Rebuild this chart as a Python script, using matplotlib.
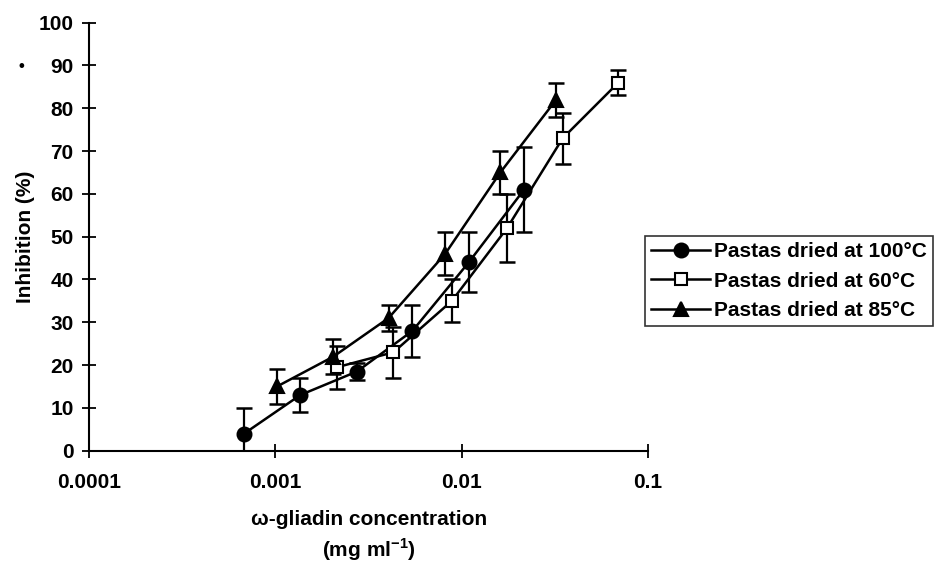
import matplotlib
matplotlib.use('Agg')
import matplotlib.pyplot as plt

# data
x_100 = [0.00068, 0.00136, 0.00274, 0.00544, 0.0109, 0.0216]
y_100 = [4, 13, 18.5, 28, 44, 61]
e_100 = [6, 4, 2, 6, 7, 10]

x_60 = [0.00214, 0.0043, 0.00885, 0.0175, 0.0348, 0.0692]
y_60 = [19.5, 23, 35, 52, 73, 86]
e_60 = [5, 6, 5, 8, 6, 3]

x_85 = [0.00102, 0.00205, 0.00405, 0.00815, 0.0161, 0.0321]
y_85 = [15, 22, 31, 46, 65, 82]
e_85 = [4, 4, 3, 5, 5, 4]

xticks = [0.0001, 0.001, 0.01, 0.1]
xticklabels = ['0.0001', '0.001', '0.01', '0.1']
yticks = list(range(0, 101, 10))

plt.rcParams['font.family'] = ['Liberation Sans', 'DejaVu Sans']
plt.rcParams['font.weight'] = 'bold'

fig = plt.figure(figsize=(9.35, 5.64), dpi=100)
ax = fig.add_axes([0.0952, 0.2009, 0.598, 0.7589])

series = [
    (x_100, y_100, e_100, 'o', 'black', 'Pastas dried at 100\u00b0C', 10),
    (x_60, y_60, e_60, 's', 'white', 'Pastas dried at 60\u00b0C', 9),
    (x_85, y_85, e_85, '^', 'black', 'Pastas dried at 85\u00b0C', 10),
]
handles = []
for xs, ys, es, m, fc, lab, ms in series:
    ax.errorbar(xs, ys, yerr=es, fmt='none', ecolor='black', elinewidth=1.6,
                capsize=6, capthick=1.8, zorder=2)
    h, = ax.plot(xs, ys, color='black', linewidth=1.8, marker=m, markersize=ms,
                 markerfacecolor=fc, markeredgecolor='black', markeredgewidth=1.5,
                 label=lab, zorder=3)
    handles.append(h)

ax.set_xscale('log')
ax.set_xlim(0.0001, 0.1)
ax.set_ylim(0, 100)
ax.set_xticks(xticks)
ax.set_xticklabels(xticklabels)
ax.minorticks_off()
ax.set_yticks(yticks)
ax.spines['top'].set_visible(False)
ax.spines['right'].set_visible(False)
for s in ['left', 'bottom']:
    ax.spines[s].set_linewidth(1.5)
ax.tick_params(direction='inout', length=10, width=1.3, labelsize=15)
ax.tick_params(axis='x', pad=11)
ax.tick_params(axis='y', pad=6)

ax.set_ylabel('Inhibition (%)', fontsize=15, fontweight='bold', labelpad=3)
ax.set_xlabel('\u03c9-gliadin concentration\n(mg ml$^{\\mathregular{-1}}$)', fontsize=15,
              fontweight='bold', labelpad=13, linespacing=1.35)

fig.legend(handles=handles, loc='upper left', bbox_to_anchor=(0.69, 0.5816),
           fontsize=15, frameon=True, fancybox=False, edgecolor='black',
           handlelength=2.8, handletextpad=0.2, borderaxespad=0, labelspacing=0.5,
           borderpad=0.3)
leg = fig.legends[0]
leg.get_frame().set_linewidth(1.2)

fig.text(0.02, 0.875, '\u2022', fontsize=12)

fig.savefig('out.png', dpi=100)
